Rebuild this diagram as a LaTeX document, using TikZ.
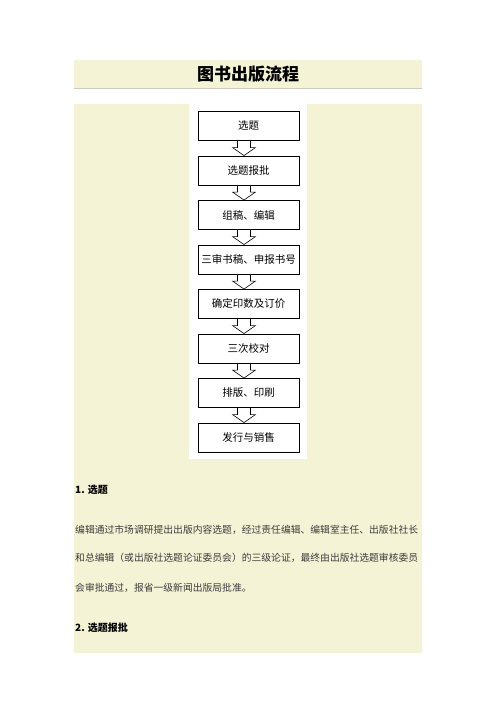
\documentclass[tikz,border=0pt]{standalone}
\usepackage{fontspec}
\setmainfont{Noto Sans CJK SC}
\usetikzlibrary{calc}

\definecolor{panelbeige}{RGB}{245,243,214}
\definecolor{rulegray}{RGB}{205,203,190}
\definecolor{bodytext}{RGB}{60,60,60}

\tikzset{
  stepbox/.style={draw,line width=0.9pt,minimum width=101pt,minimum height=29pt,inner sep=0pt,font=\fontsize{10.5}{12}\selectfont},
  hollowarrow/.style={draw,line width=0.6pt},
  bodyline/.style={anchor=west,inner sep=0pt,text=bodytext,font=\fontsize{9.8}{11}\selectfont},
  headline/.style={anchor=west,inner sep=0pt,font=\fontsize{10}{12}\selectfont\bfseries}
}

\begin{document}
\begin{tikzpicture}[x=1pt,y=-1pt]
\useasboundingbox (0,0) rectangle (496,702);
\fill[white] (0,0) rectangle (496,702);

% title band
\fill[panelbeige] (74,60) rectangle (422,88);
\draw[rulegray] (74,88) -- (422,88);
\node[font=\fontsize{17}{20}\selectfont\bfseries] (title) at (248,74) {图书出版流程};

% panel with the chart
\fill[panelbeige] (74,104) rectangle (422,653);
\fill[white] (189,104) rectangle (307,459);

\foreach \txt [count=\i] in {选题,选题报批,组稿、编辑,三审书稿、申报书号,确定印数及订价,三次校对,排版、印刷,发行与销售}
{
\node[stepbox] (b\i) at (248.5,{126+44.5*(\i-1)}) {\txt};
}

\foreach \i [evaluate=\i as \j using int(\i+1)] in {1,...,7}
{
\draw[hollowarrow] ($(b\i.south)+(-11,0)$) -- ($(b\j.north)+(-11,-8)$) -- ($(b\j.north)+(-16,-8)$)
  -- ($(b\j.north)+(-4.5,0)$) -- ($(b\j.north)+(7,-8)$) -- ($(b\j.north)+(2,-8)$) -- ($(b\i.south)+(2,0)$);
}

% text below
\node[headline] (h1) at (75,490) {1. 选题};
\node[bodyline] (l1) at (75,530) {编辑通过市场调研提出出版内容选题，经过责任编辑、编辑室主任、出版社社长};
\node[bodyline] (l2) at (75,558) {和总编辑（或出版社选题论证委员会）的三级论证，最终由出版社选题审核委员};
\node[bodyline] (l3) at (75,588) {会审批通过，报省一级新闻出版局批准。};
\node[headline] (h2) at (75,628) {2. 选题报批};

\end{tikzpicture}
\end{document}
